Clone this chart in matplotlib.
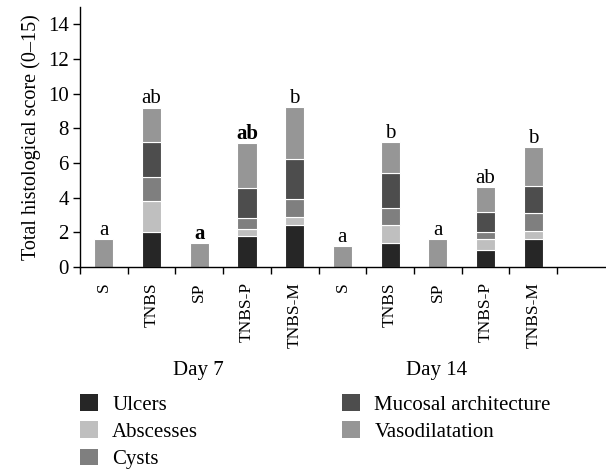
import numpy as np
import matplotlib
matplotlib.use('Agg')
import matplotlib.pyplot as plt
from matplotlib.patches import Patch

plt.rcParams['font.family'] = ['Liberation Serif', 'DejaVu Serif']

# groups: day 7 then day 14
groups = ['S', 'TNBS', 'SP', 'TNBS-P', 'TNBS-M',
          'S', 'TNBS', 'SP', 'TNBS-P', 'TNBS-M']
days = ['Day 7', 'Day 14']
letters = ['a', 'ab', 'a', 'ab', 'b', 'a', 'b', 'a', 'ab', 'b']
bold_letters = [False, False, True, True, False, False, False, False, False, False]

components = ['Ulcers', 'Abscesses', 'Cysts', 'Mucosal architecture', 'Vasodilatation']
ulcers    = [0, 2.0, 0, 1.8, 2.4, 0, 1.4, 0, 1.0, 1.6]
abscesses = [0, 1.8, 0, 0.4, 0.5, 0, 1.0, 0, 0.6, 0.5]
cysts     = [0, 1.4, 0, 0.6, 1.0, 0, 1.0, 0, 0.4, 1.0]
mucosal   = [0, 2.0, 0, 1.75, 2.35, 0, 2.0, 0, 1.2, 1.6]
vaso      = [1.6, 2.0, 1.4, 2.6, 3.0, 1.2, 1.8, 1.6, 1.4, 2.2]
colors = ['#262626', '#bfbfbf', '#7f7f7f', '#4d4d4d', '#969696']

series = [ulcers, abscesses, cysts, mucosal, vaso]

fig = plt.figure(figsize=(6.06, 4.70), dpi=100)
ax = fig.add_axes([0.132, 0.432, 0.866, 0.553])

x = np.arange(len(groups)) + 0.5
bottom = np.zeros(len(groups))
for vals, col, name in zip(series, colors, components):
    vals = np.array(vals)
    ax.bar(x, vals, width=0.40, bottom=bottom, color=col,
           edgecolor='white', linewidth=0.8, label=name)
    bottom += vals

for xi, top, lab, b in zip(x, bottom, letters, bold_letters):
    ax.annotate(lab, (xi, top), xytext=(0, 3), textcoords='offset points',
                ha='center', va='baseline', fontsize=15,
                fontweight='bold' if b else 'normal')

ax.set_xlim(0, 11)
ax.set_ylim(0, 15)
ax.set_yticks(np.arange(0, 15, 2))
ax.tick_params(axis='y', labelsize=15, length=5, width=1, direction='out', pad=3)
ax.set_xticks(np.arange(0, 11))
ax.set_xticklabels([])
ax.tick_params(axis='x', which='major', length=5, width=1, direction='out')
ax.set_xticks(x, minor=True)
ax.set_xticklabels(groups, minor=True, rotation=90, fontsize=12.5)
ax.tick_params(axis='x', which='minor', length=0, pad=11)
for s in ['top', 'right']:
    ax.spines[s].set_visible(False)
ax.spines['left'].set_linewidth(1)
ax.spines['bottom'].set_linewidth(1)
ax.set_ylabel('Total histological score (0\u201315)', fontsize=14.5, labelpad=5)

fig.text(198 / 606, 1 - 370 / 470, days[0], ha='center', va='center', fontsize=15)
fig.text(437 / 606, 1 - 370 / 470, days[1], ha='center', va='center', fontsize=15)

handles = [Patch(facecolor=c, edgecolor='none') for c in colors]
leg = fig.legend(handles, components, loc='upper left',
                 ncol=2, frameon=False, fontsize=15, handlelength=0.85, handleheight=0.85,
                 handletextpad=0.7, labelspacing=0.33, columnspacing=6.9,
                 borderpad=0.0, borderaxespad=0.0)
leg.set_bbox_to_anchor((80 / 606, 1 - 394 / 470), transform=fig.transFigure)

fig.savefig('out.png', dpi=100)
